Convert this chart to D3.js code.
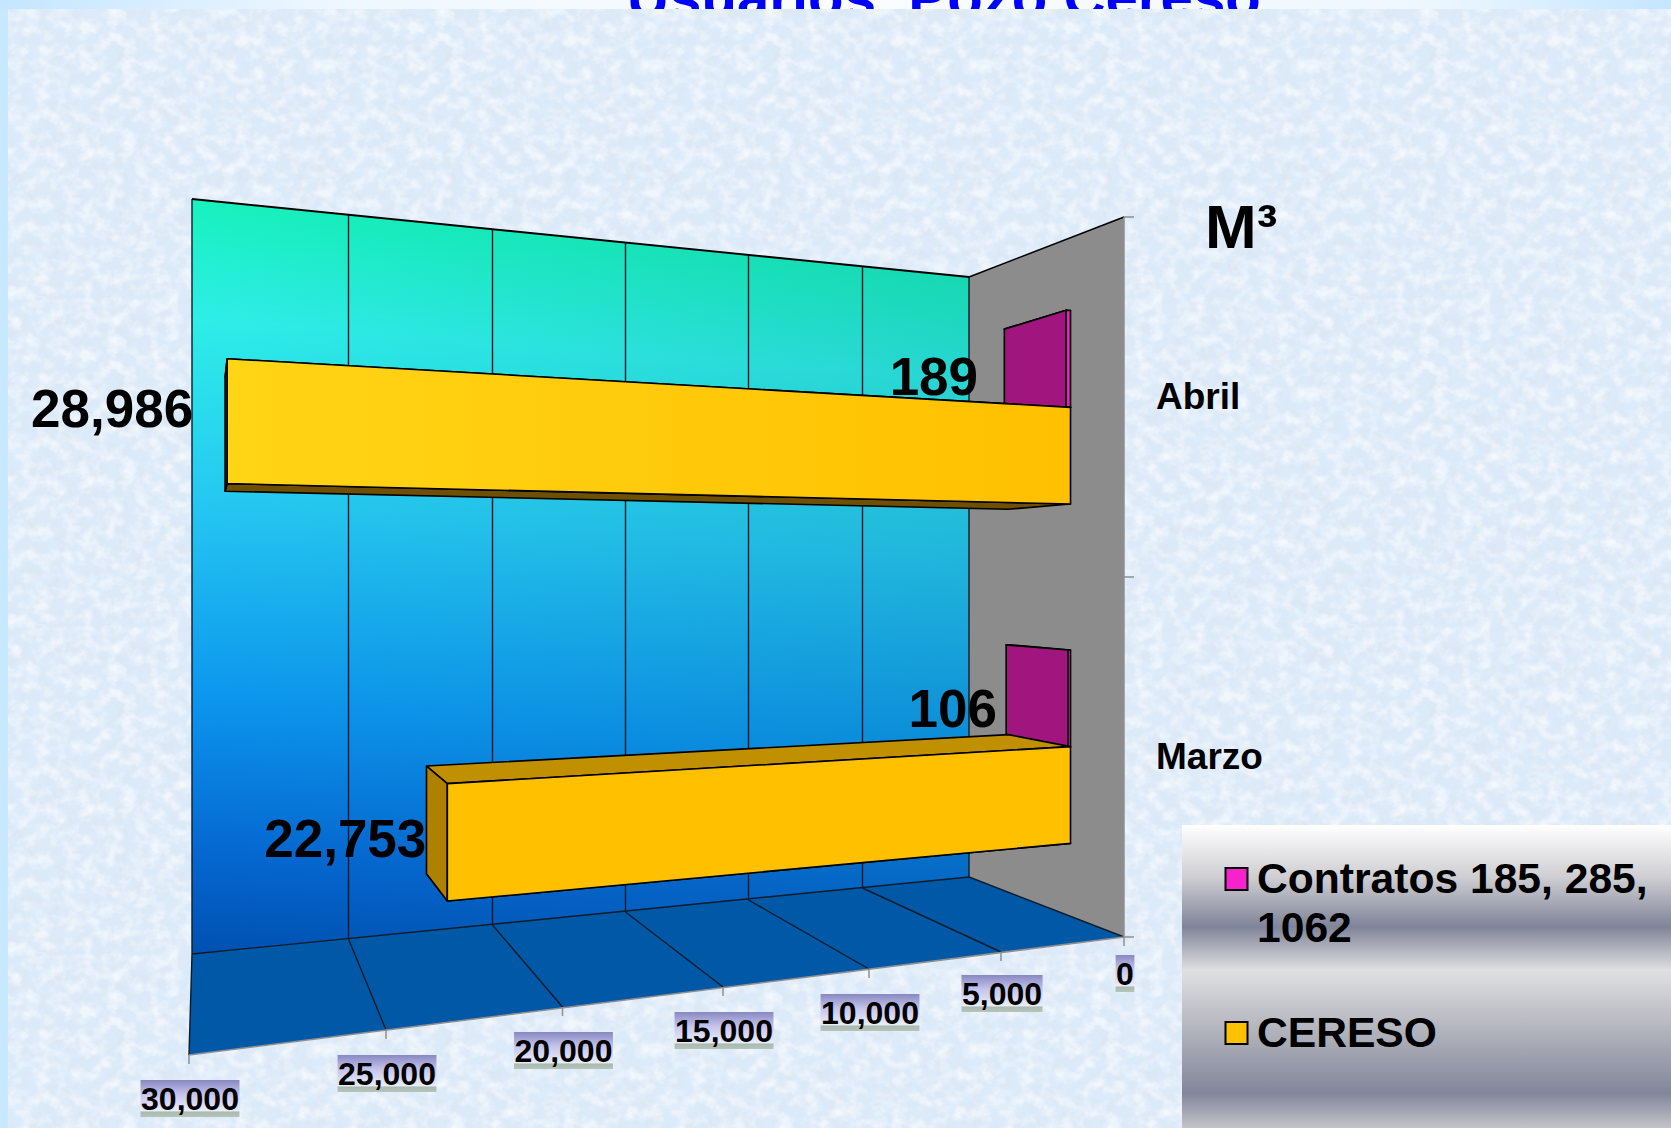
<!DOCTYPE html>
<html lang="es">
<head>
<meta charset="UTF-8">
<title>Usuarios Pozo Cereso</title>
<script src="https://d3js.org/d3.v7.min.js"></script>
<style>
    html, body { margin: 0; padding: 0; background: #fff; overflow: hidden; }
    svg { display: block; }
    text { font-family: "Liberation Sans", Arial, sans-serif; font-weight: bold; fill: #000; }
</style>
</head>
<body>
<svg id="chart" width="1671" height="1128"></svg>
<script>
    // data
    const categories = ["Marzo", "Abril"];
    const seriesNames = ["CERESO", "Contratos 185, 285, 1062"];
    const ceresoValues = [22753, 28986];
    const contratosValues = [106, 189];
    const valueTicks = [30000, 25000, 20000, 15000, 10000, 5000, 0];

    // the 3d box of the chart, as it sits on the slide (one entry per tick)
    const backX = d3.scaleLinear().domain(valueTicks).range([192, 348.5, 492.5, 625.5, 748.5, 862.5, 969]);
    const frontX = d3.scaleLinear().domain(valueTicks).range([189, 386, 562.5, 723, 869, 1001, 1124]);
    const backFloor = d3.scaleLinear().domain(valueTicks).range([954, 939, 925, 912, 900, 888, 877]);
    const frontFloor = d3.scaleLinear().domain(valueTicks).range([1055, 1030, 1007, 987, 969, 952, 937]);
    const backTop = d3.scaleLinear().domain(valueTicks).range([199, 215, 229, 242.5, 255, 266, 277]);
    const frontTop = d3.scaleLinear().domain(valueTicks).range([102, 126, 148, 167, 186, 202, 217]);

    const barFront = 0.655, barBack = 0.255;

    // h = 0 floor, h = 1 ceiling; d = 0 back wall, d = 1 front edge
    function project(v, d, h) {
        const x = d3.interpolateNumber(backX(v), frontX(v))(d);
        const floor = d3.interpolateNumber(backFloor(v), frontFloor(v))(d);
        const top = d3.interpolateNumber(backTop(v), frontTop(v))(d);
        return [x, floor + (top - floor) * h];
    }

    const band = d3.scaleBand().domain(categories).range([0, 1]).paddingInner(0.43).paddingOuter(0.215);
    const inner = d3.scaleBand().domain(seriesNames).range([0, band.bandwidth()]);
    const line = d3.line();
    const poly = pts => line(pts) + "Z";

    const svg = d3.select("#chart");
    const defs = svg.append("defs");

    function gradient(id, x1, y1, x2, y2, stops) {
        const g = defs.append("linearGradient").attr("id", id)
            .attr("gradientUnits", "userSpaceOnUse")
            .attr("x1", x1).attr("y1", y1).attr("x2", x2).attr("y2", y2);
        stops.forEach(s => g.append("stop").attr("offset", s[0]).attr("stop-color", s[1]).attr("stop-opacity", s[2] === undefined ? 1 : s[2]));
    }

    gradient("topStrip", 0, 0, 1671, 0, [[0, "#c4e6ff"], [0.2, "#eef7ff"], [0.5, "#fbfdff"], [0.85, "#eef7ff"], [1, "#c4e6ff"]]);
    gradient("wall", 225, 199, 165, 954, [[0, "#16f2bc"], [0.16, "#2eeee8"], [0.4, "#25c8f2"], [0.66, "#0c96ee"], [0.86, "#0568d2"], [1, "#0050b0"]]);
    gradient("wallShade", 192, 0, 969, 0, [[0, "#003040", 0], [1, "#003040", 0.13]]);
    gradient("aprilBar", 229, 0, 1070, 0, [[0, "#ffd516"], [1, "#ffc000"]]);
    gradient("legendBg", 0, 825, 0, 1128, [[0, "#ffffff"], [0.17, "#cfcfd3"], [0.337, "#808499"], [0.48, "#e0e0e1"], [0.72, "#a8aab5"], [0.885, "#82869b"], [1, "#c4c4c8"]]);
    gradient("tickBg", 0, 0, 0, 1, [[0, "#8888c2"], [0.4, "#c6c6ec"], [0.84, "#eaeefa"], [0.86, "#a9baae"], [1, "#b6c4bc"]]);
    defs.select("#tickBg").attr("gradientUnits", "objectBoundingBox");

    // marble texture of the slide, one tile repeated
    function noiseFilter(id, freq, seed, matrix) {
        const f = defs.append("filter").attr("id", id)
            .attr("x", 0).attr("y", 0).attr("width", "100%").attr("height", "100%");
        f.append("feTurbulence").attr("type", "fractalNoise").attr("baseFrequency", freq)
            .attr("numOctaves", 4).attr("seed", seed).attr("stitchTiles", "stitch");
        f.append("feColorMatrix").attr("type", "matrix").attr("values", matrix);
    }
    noiseFilter("blotches", "0.022 0.02", 7, "0 0 0 0 0.72  0 0 0 0 0.84  0 0 0 0 0.97  1.8 0 0 0 -0.72");
    noiseFilter("specks", "0.1 0.09", 11, "0 0 0 0 0.72  0 0 0 0 0.78  0 0 0 0 0.86  1.4 0 0 0 -0.58");
    noiseFilter("veins", "0.07 0.08", 23, "0 0 0 0 1  0 0 0 0 1  0 0 0 0 1  0 1.5 0 0 -0.6");
    const pattern = defs.append("pattern").attr("id", "tile").attr("patternUnits", "userSpaceOnUse")
        .attr("x", 8).attr("y", 9).attr("width", 328).attr("height", 328);
    pattern.append("rect").attr("width", 328).attr("height", 328).attr("fill", "#dceaf9");
    ["blotches", "specks", "veins"].forEach(id => {
        pattern.append("rect").attr("width", 328).attr("height", 328).attr("filter", `url(#${id})`);
    });

    // background
    svg.append("rect").attr("width", 1671).attr("height", 1128).attr("fill", "#c8e8ff");
    svg.append("rect").attr("width", 1671).attr("height", 9).attr("fill", "url(#topStrip)");

    // title, cut off by the textured panel
    svg.append("text").attr("x", 627).attr("y", 17).attr("font-size", 58.2)
        .style("fill", "#0000ff").text("Usuarios\u00a0 Pozo Cereso:");

    svg.append("rect").attr("x", 8).attr("y", 9).attr("width", 1663).attr("height", 1119).attr("fill", "url(#tile)");

    // back wall, side wall, floor
    const wallPts = [project(30000, 0, 1), project(0, 0, 1), project(0, 0, 0), project(30000, 0, 0)];
    svg.append("path").attr("d", poly(wallPts)).attr("fill", "url(#wall)");
    svg.append("path").attr("d", poly(wallPts)).attr("fill", "url(#wallShade)");
    svg.append("path")
        .attr("d", poly([project(0, 0, 1), project(0, 1, 1), project(0, 1, 0), project(0, 0, 0)]))
        .attr("fill", "#8c8c8c");
    svg.append("path")
        .attr("d", poly([project(30000, 0, 0), project(0, 0, 0), project(0, 1, 0), project(30000, 1, 0)]))
        .attr("fill", "#0058a6");

    // gridlines on the wall and on the floor
    const grid = svg.append("g").attr("stroke", "#0b1c28").attr("stroke-width", 1.4).attr("fill", "none");
    grid.selectAll(".wallLine").data(valueTicks).enter().append("path")
        .attr("d", v => line([project(v, 0, 1), project(v, 0, 0)]));
    grid.selectAll(".floorLine").data(valueTicks).enter().append("path")
        .attr("d", v => line([project(v, 0, 0), project(v, 1, 0)]));
    grid.append("path").attr("d", line([project(30000, 0, 0), project(0, 0, 0)]));
    grid.append("path").attr("d", line([project(30000, 0, 1), project(0, 0, 1)])).attr("stroke", "#000").attr("stroke-width", 2);
    grid.append("path").attr("d", line([project(0, 0, 1), project(0, 1, 1)])).attr("stroke", "#000").attr("stroke-width", 1.5);

    // value axis along the front of the floor
    const axis = svg.append("g").attr("stroke", "#8f8f8f").attr("stroke-width", 1.5).attr("fill", "none");
    axis.append("path").attr("d", line([project(30000, 1, 0), project(0, 1, 0)]));
    axis.selectAll(".tick").data(valueTicks).enter().append("path")
        .attr("d", v => { const p = project(v, 1, 0); return line([p, [p[0], p[1] + 9]]); });
    // category axis on the side wall
    axis.append("path").attr("d", line([project(0, 1, 1), project(0, 1, 0)]));
    axis.selectAll(".catTick").data([1, 0.5, 0]).enter().append("path")
        .attr("d", h => { const p = project(0, 1, h); return line([p, [p[0] + 10, p[1]]]); });

    // bars: pink ones first, the yellow ones sit in front of them
    function drawBar(cat, series, value, colors) {
        const h0 = band(cat) + inner(series);
        const h1 = h0 + inner.bandwidth();
        const g = svg.append("g").attr("stroke", "#000").attr("stroke-width", 1.6).attr("stroke-linejoin", "round");
        // underside and top
        g.append("path").attr("fill", colors.under)
            .attr("d", poly([project(0, barBack, h0), project(value, barBack, h0), project(value, barFront, h0), project(0, barFront, h0)]));
        g.append("path").attr("fill", colors.top)
            .attr("d", poly([project(0, barBack, h1), project(value, barBack, h1), project(value, barFront, h1), project(0, barFront, h1)]));
        // end cap
        g.append("path").attr("fill", colors.end)
            .attr("d", poly([project(value, barBack, h1), project(value, barFront, h1), project(value, barFront, h0), project(value, barBack, h0)]));
        // face
        g.append("path").attr("fill", colors.face)
            .attr("d", poly([project(0, barFront, h1), project(value, barFront, h1), project(value, barFront, h0), project(0, barFront, h0)]));
    }

    const pink = { end: "#a0157e", top: "#a0157e", under: "#700e58", face: "#e51fc0" };
    categories.forEach((c, i) => drawBar(c, seriesNames[1], contratosValues[i], pink));
    categories.forEach((c, i) => drawBar(c, seriesNames[0], ceresoValues[i], {
        end: "#ae8200", top: "#c09000", under: "#6e5000",
        face: c === "Abril" ? "url(#aprilBar)" : "#ffc000"
    }));

    // value labels, right aligned just off the end of each bar
    const fmt = d3.format(",");
    const labelSize = 53;
    function valueLabel(cat, series, value, dx, dy) {
        const h = band(cat) + inner(series);
        const p = project(value, barFront, h);
        svg.append("text").attr("x", p[0] + dx).attr("y", p[1] + dy)
            .attr("text-anchor", "end").attr("font-size", labelSize).text(fmt(value));
    }
    categories.forEach((c, i) => {
        valueLabel(c, seriesNames[0], ceresoValues[i], c === "Abril" ? -34 : -21, c === "Abril" ? -57 : -44);
        valueLabel(c, seriesNames[1], contratosValues[i], c === "Abril" ? -88 : -71, c === "Abril" ? -12 : -20);
    });

    // tick labels of the value axis
    const tickLabels = svg.append("g").selectAll("g").data(valueTicks).enter().append("g")
        .attr("transform", v => {
            const p = project(v, 1, 0);
            return `translate(${p[0] + 1},${p[1] + (v === 0 ? 18 : v === 5000 ? 23 : 25)})`;
        });
    tickLabels.append("text").attr("text-anchor", "middle").attr("y", 30).attr("font-size", 32).text(fmt);
    tickLabels.each(function () {
        const g = d3.select(this), w = g.select("text").node().getComputedTextLength() + 1;
        g.insert("rect", "text").attr("x", -w / 2).attr("y", 0).attr("width", w).attr("height", 37).attr("fill", "url(#tickBg)");
    });

    // category labels
    svg.selectAll(".catLabel").data(categories).enter().append("text")
        .attr("x", 1156).attr("font-size", 37)
        .attr("y", c => project(0, 1, band(c) + band.bandwidth() / 2)[1] + 12)
        .text(c => c);

    // unit
    svg.append("text").attr("x", 1205).attr("y", 248).attr("font-size", 62).text("M\u00b3");

    // legend
    const legend = svg.append("g");
    legend.append("rect").attr("x", 1182).attr("y", 825).attr("width", 489).attr("height", 303).attr("fill", "url(#legendBg)");
    legend.append("rect").attr("x", 1225.5).attr("y", 868).attr("width", 22).attr("height", 22)
        .attr("fill", "#f622cc").attr("stroke", "#000").attr("stroke-width", 2);
    legend.append("rect").attr("x", 1225.5).attr("y", 1022).attr("width", 22).attr("height", 22)
        .attr("fill", "#ffc000").attr("stroke", "#000").attr("stroke-width", 2);
    const pinkLabel = legend.append("text").attr("font-size", 42.6);
    pinkLabel.append("tspan").attr("x", 1257).attr("y", 893).text("Contratos 185, 285,");
    pinkLabel.append("tspan").attr("x", 1257).attr("y", 942).text("1062");
    legend.append("text").attr("x", 1257).attr("y", 1047).attr("font-size", 42.6).text(seriesNames[0]);
</script>
</body>
</html>
